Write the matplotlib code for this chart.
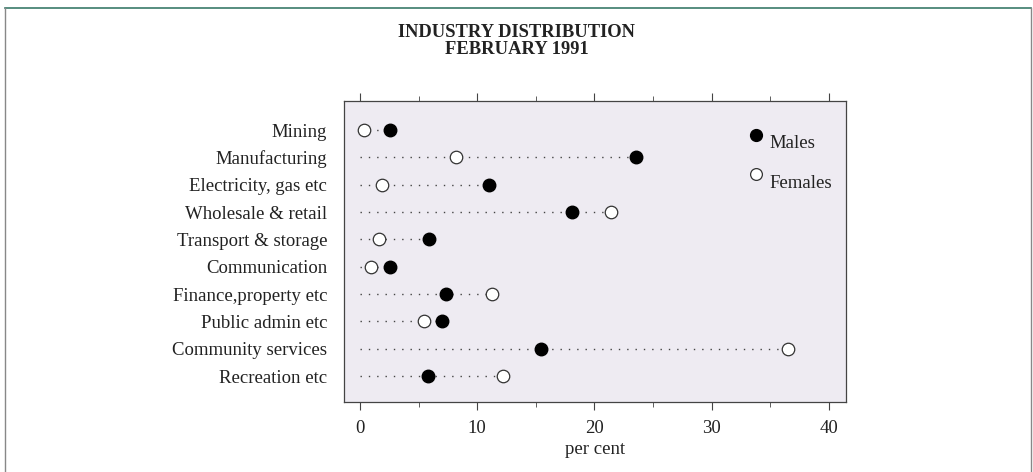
import matplotlib
matplotlib.use("Agg")
import matplotlib.pyplot as plt
from matplotlib.lines import Line2D
import numpy as np

industries = ["Mining", "Manufacturing", "Electricity, gas etc", "Wholesale & retail",
              "Transport & storage", "Communication", "Finance,property etc",
              "Public admin etc", "Community services", "Recreation etc"]
males = [2.6, 23.5, 11.0, 18.1, 5.9, 2.6, 7.3, 7.0, 15.4, 5.8]
females = [0.35, 8.2, 1.9, 21.4, 1.6, 0.95, 11.3, 5.5, 36.5, 12.2]

plt.rcParams['font.family'] = ['Liberation Serif', 'DejaVu Serif']
txt = '#222222'
fs = 13.5

fig = plt.figure(figsize=(10.33, 4.72), dpi=100)
ax = fig.add_axes([0.333, 0.148, 0.486, 0.638])
ax.set_facecolor('#eeebf2')

y = np.arange(len(industries))
for yi, m, f in zip(y, males, females):
    ax.plot([0, max(m, f)], [yi, yi], linestyle=(0, (1, 5)), color='#444444', lw=1.0, zorder=1)
ax.plot(males, y, 'o', ms=9, mfc='black', mec='black', zorder=3)
ax.plot(females, y, 'o', ms=9, mfc='white', mec='#333333', mew=0.9, zorder=3)

ax.set_xlim(-1.36, 41.45)
ax.set_ylim(9.95, -1.06)
ax.set_yticks(y)
ax.set_yticklabels(industries, fontsize=fs, color=txt)
ax.tick_params(axis='y', length=0, pad=12)
ax.set_xticks(np.arange(0, 41, 10))
ax.set_xticks(np.arange(5, 40, 10), minor=True)
ax.tick_params(axis='x', which='major', length=6, top=True, labelsize=fs,
               labelcolor=txt, color='#444444', pad=7)
ax.tick_params(axis='x', which='minor', length=3.5, top=True, color='#444444')
ax.set_xlabel('per cent', fontsize=fs, color=txt, labelpad=3)
for s in ax.spines.values():
    s.set_color('#444444')
    s.set_linewidth(0.9)

# legend drawn inside the panel
ax.plot([0.82], [0.887], 'o', ms=8.5, mfc='black', mec='black', transform=ax.transAxes)
ax.plot([0.82], [0.757], 'o', ms=8.5, mfc='white', mec='#333333', mew=0.9, transform=ax.transAxes)
ax.text(0.848, 0.858, 'Males', fontsize=fs, color=txt, va='center', transform=ax.transAxes)
ax.text(0.848, 0.725, 'Females', fontsize=fs, color=txt, va='center', transform=ax.transAxes)

fig.text(0.5, 0.95, 'INDUSTRY DISTRIBUTION\nFEBRUARY 1991', ha='center', va='top',
         fontsize=13.3, fontweight='bold', color=txt, linespacing=1.0)

# outer frame
top = 1 - 8 / 472
fig.add_artist(Line2D([5 / 1033, 1031 / 1033], [top, top], color='#3a7a6a', lw=1.2))
fig.add_artist(Line2D([5 / 1033, 5 / 1033], [0, top], color='#888888', lw=1.0))
fig.add_artist(Line2D([1031 / 1033, 1031 / 1033], [0, top], color='#888888', lw=1.0))

fig.savefig('out.png', dpi=100)
